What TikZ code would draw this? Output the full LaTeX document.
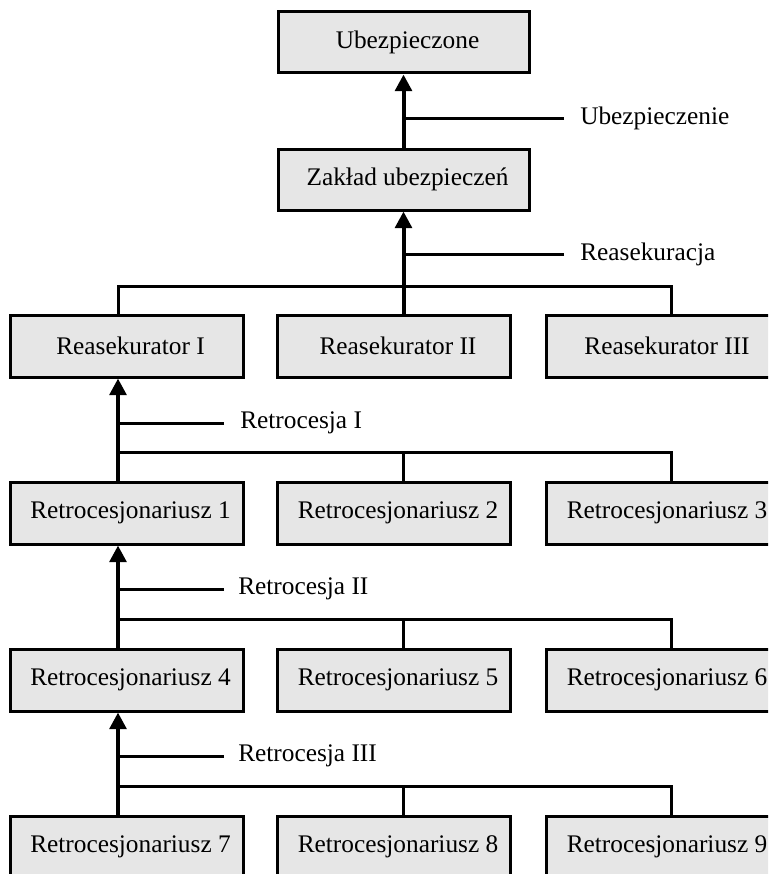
\documentclass[tikz,border=0pt]{standalone}
\usepackage{fontspec}
\setmainfont{Liberation Serif}
\usetikzlibrary{arrows.meta}
\definecolor{boxfill}{HTML}{E6E6E6}
\begin{document}
\begin{tikzpicture}[x=0.75pt,y=-0.75pt,
  box/.style={draw, line width=2.25pt, fill=boxfill, minimum width=174.75pt,
    minimum height=46.5pt, inner sep=0pt, font=\fontsize{19}{23}\selectfont,
    execute at begin node={\hspace*{6pt}}},
  wide/.style={box, minimum width=188.25pt, minimum height=45.75pt},
  lbl/.style={anchor=west, inner sep=0pt, font=\fontsize{19}{23}\selectfont},
  link/.style={line width=2.25pt},
  flow/.style={line width=3pt, -{Triangle[width=12.5pt,length=12.5pt]}}]
\useasboundingbox (0,0) rectangle (768,874);
\clip (0,0) rectangle (768,874);

% boxes
\node[wide] (top) at (403.5,42.5) {Ubezpieczone};
\node[wide] (zu)  at (403.5,179.5) {Zakład ubezpieczeń};

\node[box] (r1) at (126.5,346) {Reasekurator I};
\node[box] (r2) at (394,346)   {Reasekurator II};
\node[box] (r3) at (663,346)   {Reasekurator III};

\node[box] (c1) at (126.5,513) {Retrocesjonariusz 1};
\node[box] (c2) at (394,513)   {Retrocesjonariusz 2};
\node[box] (c3) at (663,513)   {Retrocesjonariusz 3};

\node[box] (c4) at (126.5,680) {Retrocesjonariusz 4};
\node[box] (c5) at (394,680)   {Retrocesjonariusz 5};
\node[box] (c6) at (663,680)   {Retrocesjonariusz 6};

\node[box] (c7) at (126.5,847) {Retrocesjonariusz 7};
\node[box] (c8) at (394,847)   {Retrocesjonariusz 8};
\node[box] (c9) at (663,847)   {Retrocesjonariusz 9};

% level 1: insurer -> insured
\draw[flow] (zu.north) -- (top.south);
\coordinate (e0) at (564,118);
\draw[link] (e0) -- (e0 -| zu.north);
\node[lbl] (l0) at (580,118) {Ubezpieczenie};

% level 2: reinsurers -> insurer
\coordinate (b1L) at (118,286);
\coordinate (b1R) at (671,286);
\draw[flow] (zu.south |- r2.north) -- (zu.south);
\draw[link] (r1.north -| b1L) |- (b1R) -- (r3.north -| b1R);
\coordinate (e1) at (564,254);
\draw[link] (e1) -- (e1 -| zu.south);
\node[lbl] (l1) at (580,254) {Reasekuracja};

% level 3: retrocession I
\coordinate (b2L) at (118,452);
\coordinate (b2R) at (671,452);
\coordinate (m2) at (403.5,452);
\draw[flow] (c1.north -| b2L) -- (r1.south -| b2L);
\draw[link] (b2L) -- (b2R) -- (b2R |- c3.north);
\draw[link] (m2) -- (m2 |- c2.north);
\coordinate (e2) at (224,423);
\draw[link] (e2) -- (e2 -| b2L);
\node[lbl] (l2) at (240,423) {Retrocesja I};

% level 4: retrocession II
\coordinate (b3L) at (118,619);
\coordinate (b3R) at (671,619);
\coordinate (m3) at (403.5,619);
\draw[flow] (c4.north -| b3L) -- (c1.south -| b3L);
\draw[link] (b3L) -- (b3R) -- (b3R |- c6.north);
\draw[link] (m3) -- (m3 |- c5.north);
\coordinate (e3) at (224,589);
\draw[link] (e3) -- (e3 -| b3L);
\node[lbl] (l3) at (238,589) {Retrocesja II};

% level 5: retrocession III
\coordinate (b4L) at (118,786);
\coordinate (b4R) at (671,786);
\coordinate (m4) at (403.5,786);
\draw[flow] (c7.north -| b4L) -- (c4.south -| b4L);
\draw[link] (b4L) -- (b4R) -- (b4R |- c9.north);
\draw[link] (m4) -- (m4 |- c8.north);
\coordinate (e4) at (224,756);
\draw[link] (e4) -- (e4 -| b4L);
\node[lbl] (l4) at (238,756) {Retrocesja III};
\end{tikzpicture}
\end{document}
